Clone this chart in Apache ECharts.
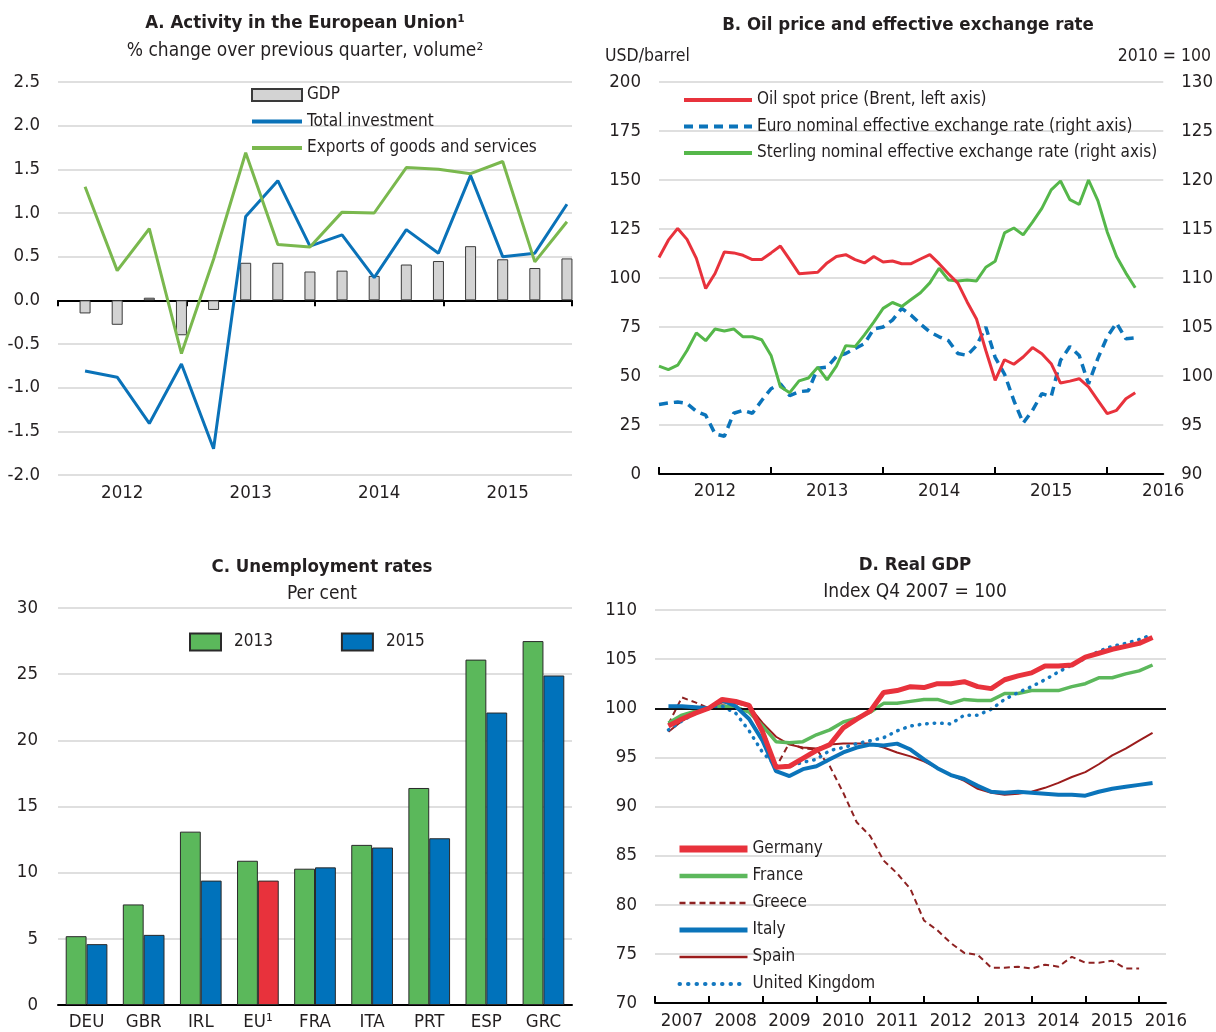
<!DOCTYPE html>
<html>
<head>
<meta charset="utf-8">
<title>EU activity, oil, unemployment and real GDP</title>
<script src="https://cdn.jsdelivr.net/npm/echarts@6/dist/echarts.min.js"></script>
<style>
    html, body { margin: 0; padding: 0; background: #fff; }
    #chart { width: 1216px; height: 1032px; }
</style>
</head>
<body>
<div id="chart"></div>
<script>
// ---- A. Activity in the European Union, % q-o-q ----
const quartersA   = ['2012Q1', '2012Q2', '2012Q3', '2012Q4', '2013Q1', '2013Q2', '2013Q3', '2013Q4',
                     '2014Q1', '2014Q2', '2014Q3', '2014Q4', '2015Q1', '2015Q2', '2015Q3', '2015Q4'];
const yearsA      = ['2012', '2013', '2014', '2015'];
const gdpA        = [-0.15, -0.28, 0.03, -0.40, -0.11, 0.43, 0.43, 0.33, 0.34, 0.28, 0.41, 0.45, 0.62, 0.47, 0.37, 0.48];
const investmentA = [-0.81, -0.88, -1.41, -0.73, -1.70, 0.96, 1.37, 0.62, 0.75, 0.26, 0.81, 0.54, 1.43, 0.50, 0.54, 1.10];
const exportsA    = [1.30, 0.34, 0.82, -0.61, 0.47, 1.69, 0.64, 0.61, 1.01, 1.00, 1.52, 1.50, 1.45, 1.59, 0.44, 0.90];

// ---- B. Oil price and effective exchange rates, monthly from Jan 2012 ----
const oilB      = [110.5, 119.3, 125.3, 119.7, 110.0, 94.6, 102.3, 113.3, 112.8, 111.6, 109.4, 109.4,
                   112.8, 116.3, 109.4, 102.2, 102.6, 102.9, 107.7, 111.0, 111.9, 109.4, 107.7, 111.0,
                   108.2, 108.7, 107.3, 107.3, 109.7, 111.9, 107.3, 102.2, 97.4, 87.8, 79.1, 63.0,
                   47.8, 58.3, 56.0, 59.7, 64.5, 61.4, 56.3, 46.4, 47.4, 48.6, 44.4, 37.6,
                   30.8, 32.5, 38.4, 41.5];
const euroB     = [97.1, 97.25, 97.35, 97.2, 96.4, 96.0, 94.1, 93.85, 96.2, 96.5, 96.2, 97.5,
                   98.7, 99.2, 98.0, 98.4, 98.5, 100.8, 100.9, 102.0, 102.3, 102.8, 103.3, 104.8,
                   105.0, 105.7, 106.9, 106.2, 105.3, 104.5, 104.0, 103.6, 102.3, 102.1, 103.1, 105.0,
                   101.9, 100.2, 97.5, 95.2, 96.5, 98.2, 97.9, 101.6, 103.0, 102.1, 99.2, 101.8,
                   104.0, 105.4, 103.8, 103.9];
const sterlingB = [101.0, 100.65, 101.1, 102.6, 104.4, 103.6, 104.8, 104.6, 104.8, 104.0, 104.0, 103.7,
                   102.1, 98.9, 98.3, 99.5, 99.8, 100.9, 99.6, 101.0, 103.1, 103.0, 104.2, 105.5,
                   106.9, 107.5, 107.1, 107.8, 108.5, 109.5, 111.0, 109.8, 109.7, 109.8, 109.7, 111.1,
                   111.7, 114.6, 115.1, 114.4, 115.7, 117.1, 119.0, 119.9, 118.0, 117.5, 120.0, 117.9,
                   114.7, 112.2, 110.5, 109.0];

// ---- C. Unemployment rates, per cent ----
const countriesC = ['DEU', 'GBR', 'IRL', 'EU¹', 'FRA', 'ITA', 'PRT', 'ESP', 'GRC'];
const unemp2013  = [5.2, 7.6, 13.1, 10.9, 10.3, 12.1, 16.4, 26.1, 27.5];
const unemp2015  = [4.6, 5.3, 9.4, 9.4, 10.4, 11.9, 12.6, 22.1, 24.9];

// ---- D. Real GDP, index Q4 2007 = 100, 2007Q1 to 2016Q1 ----
const germanyD = [98.2, 98.9, 99.5, 100.0, 100.9, 100.7, 100.3, 97.6, 94.0, 94.1, 94.9, 95.7, 96.3, 98.0, 98.9, 99.7,
                  101.6, 101.8, 102.2, 102.1, 102.5, 102.5, 102.7, 102.2, 102.0, 102.9, 103.3, 103.6, 104.3, 104.3,
                  104.4, 105.2, 105.6, 106.0, 106.3, 106.6, 107.2];
const franceD  = [98.5, 99.3, 99.7, 100.0, 100.2, 100.1, 99.6, 98.2, 96.6, 96.5, 96.6, 97.3, 97.8, 98.6, 99.0, 99.6,
                  100.5, 100.5, 100.7, 100.9, 100.9, 100.5, 100.9, 100.8, 100.8, 101.5, 101.5, 101.8, 101.8, 101.8,
                  102.2, 102.5, 103.1, 103.1, 103.5, 103.8, 104.4];
const greeceD  = [98.4, 101.1, 100.6, 100.0, 100.3, 100.2, 99.6, 98.0, 94.0, 96.5, 95.9, 95.8, 94.1, 91.4, 88.4, 87.0,
                  84.5, 83.2, 81.6, 78.4, 77.4, 76.1, 75.1, 74.9, 73.6, 73.6, 73.7, 73.5, 73.9, 73.7,
                  74.7, 74.1, 74.1, 74.3, 73.5, 73.5];
const italyD   = [100.2, 100.2, 100.1, 100.0, 100.8, 100.2, 98.9, 96.7, 93.6, 93.1, 93.8, 94.1, 94.8, 95.5, 96.0, 96.3,
                  96.2, 96.4, 95.8, 94.8, 93.9, 93.2, 92.8, 92.1, 91.5, 91.4, 91.5, 91.4, 91.3, 91.2,
                  91.2, 91.1, 91.5, 91.8, 92.0, 92.2, 92.4];
const spainD   = [97.6, 98.7, 99.5, 100.0, 100.6, 100.5, 100.2, 98.5, 97.1, 96.3, 96.0, 95.9, 96.3, 96.4, 96.4, 96.4,
                  96.0, 95.5, 95.1, 94.6, 93.9, 93.2, 92.6, 91.8, 91.4, 91.2, 91.3, 91.5, 91.9, 92.4,
                  93.0, 93.5, 94.3, 95.2, 95.9, 96.7, 97.5];
const ukD      = [97.8, 98.7, 99.5, 100.0, 100.2, 99.5, 97.7, 95.5, 94.1, 94.1, 94.5, 94.8, 95.7, 96.0, 96.4, 96.7,
                  97.0, 97.7, 98.2, 98.4, 98.5, 98.4, 99.3, 99.3, 99.9, 100.9, 101.6, 102.2, 102.9, 103.7,
                  104.4, 105.1, 105.8, 106.3, 106.6, 107.0, 107.5];

// calendar helpers for the time axes (axis slots only, not data)
function monthRange(startYear, count) {
    const out = [];
    for (let i = 0; i < count; i++) {
        out.push((startYear + Math.floor(i / 12)) + '-' + String(i % 12 + 1).padStart(2, '0'));
    }
    return out;
}
function quarterRange(startYear, startQ, count) {
    const out = [];
    for (let i = 0; i < count; i++) {
        const k = startQ - 1 + i;
        out.push((startYear + Math.floor(k / 4)) + 'Q' + (k % 4 + 1));
    }
    return out;
}
const monthsB      = monthRange(2012, 55);         // Jan 2012 .. Jul 2016, axis runs to mid-2016
const quartersD    = quarterRange(2006, 4, 39);    // 2006Q4 .. 2016Q2, points sit at quarter ends
const gdpQuartersD = quartersD.slice(1, 38);       // 2007Q1 .. 2016Q1

const FONT = '"Liberation Sans Narrow", "DejaVu Sans Condensed", "Arial Narrow", sans-serif';
const INK = '#231f20';
const GRIDC = '#d4d4d4';
const RED = '#e8323c';
const BLUE = '#0b74ba';
const GREEN = '#5bb85b';

const txt = { fontFamily: FONT, fontSize: 18.5, color: INK };
const legTxt = { fontFamily: FONT, fontSize: 17, color: INK, lineHeight: 20 };
const titleTxt = { fontFamily: FONT, fontSize: 18.5, fontWeight: 'bold', color: INK };
const subTxt = { fontFamily: FONT, fontSize: 19, color: INK };
const blackLine = { color: '#000', width: 2 };
const split = { show: true, lineStyle: { color: GRIDC, width: 1.5 } };
// line legends: keep only the stroke, hide the marker ECharts adds in the middle
const noMarker = { opacity: 0, borderWidth: 0 };

function valueAxis(gridIndex, min, max, interval, extra) {
    return Object.assign({
        gridIndex, type: 'value', min, max, interval,
        axisLine: { show: false }, axisTick: { show: false },
        splitLine: split,
        axisLabel: Object.assign({ margin: 18 }, txt)
    }, extra || {});
}

function pairs(keys, vals) {
    return vals.map((v, i) => [keys[i], v]);
}

function lineKey(name, width, type) {
    return { name, itemStyle: noMarker, lineStyle: { width, type: type || 'solid' } };
}

const chart = echarts.init(document.getElementById('chart'), null, { renderer: 'canvas' });

chart.setOption({
    animation: false,
    textStyle: { fontFamily: FONT, color: INK },
    title: [
        { text: 'A. Activity in the European Union¹', subtext: '% change over previous quarter, volume²',
          left: 300, top: 9, textAlign: 'center', itemGap: 9, textStyle: titleTxt, subtextStyle: subTxt },
        { text: 'B. Oil price and effective exchange rate',
          left: 903, top: 11, textAlign: 'center', textStyle: titleTxt },
        { text: 'C. Unemployment rates', subtext: 'Per cent',
          left: 317, top: 553, textAlign: 'center', itemGap: 8, textStyle: titleTxt, subtextStyle: subTxt },
        { text: 'D. Real GDP', subtext: 'Index Q4 2007 = 100',
          left: 910, top: 551, textAlign: 'center', itemGap: 8, textStyle: titleTxt, subtextStyle: subTxt }
    ],
    legend: [
        { data: [{ name: 'GDP', icon: 'rect' },
                 lineKey('Total investment', 4),
                 lineKey('Exports of goods and services', 4)],
          orient: 'vertical', left: 245, top: 80, itemWidth: 50, itemHeight: 12, itemGap: 6.5,
          selectedMode: false, textStyle: legTxt },
        { data: [lineKey('Oil spot price (Brent, left axis)', 4),
                 lineKey('Euro nominal effective exchange rate (right axis)', 4, [9, 6]),
                 lineKey('Sterling nominal effective exchange rate (right axis)', 4)],
          orient: 'vertical', left: 677, top: 85, itemWidth: 68, itemHeight: 12, itemGap: 6.5,
          selectedMode: false, textStyle: legTxt },
        { data: [{ name: '2013', icon: 'rect' }, { name: '2015', icon: 'rect' }],
          orient: 'horizontal', left: 184, top: 627, itemWidth: 31, itemHeight: 17, itemGap: 68,
          selectedMode: false, textStyle: Object.assign({}, legTxt, { padding: [0, 0, 0, 8] }) },
        { data: [lineKey('Germany', 7), lineKey('France', 4.5), lineKey('Greece', 2.5, [6, 4]),
                 lineKey('Italy', 5), lineKey('Spain', 2.5), lineKey('United Kingdom', 4, [0.5, 8])],
          orient: 'vertical', left: 671, top: 834, itemWidth: 68, itemHeight: 12, itemGap: 7,
          selectedMode: false, textStyle: legTxt }
    ],
    grid: [
        { left: 58, top: 82, width: 514, height: 393 },
        { left: 659, top: 82, width: 507, height: 392 },
        { left: 58, top: 608, width: 514, height: 397 },
        { left: 655, top: 610, width: 511, height: 393 },
        // A data plane: quarterly points sit late in each quarter, as in the source chart
        { left: 69, top: 82, width: 514, height: 393 }
    ],
    xAxis: [
        // A: the year axes draw the zero line and the labels
        { gridIndex: 4, type: 'category', data: quartersA, show: false, axisLine: { onZero: false } },
        { gridIndex: 0, type: 'category', data: yearsA, position: 'bottom',
          axisLine: { onZero: true, lineStyle: blackLine },
          axisTick: { show: true, length: 6, lineStyle: blackLine },
          axisLabel: { show: false } },
        { gridIndex: 0, type: 'category', data: yearsA, position: 'bottom',
          axisLine: { show: false, onZero: false }, axisTick: { show: false },
          axisLabel: Object.assign({ margin: 9 }, txt) },
        // B
        { gridIndex: 1, type: 'category', data: monthsB, boundaryGap: false,
          axisLine: { lineStyle: blackLine },
          axisTick: { inside: true, length: 7, interval: (i) => i % 12 === 0, lineStyle: blackLine },
          axisLabel: Object.assign({ margin: 8, interval: (i) => i % 12 === 6, formatter: (v) => v.slice(0, 4) }, txt) },
        // C
        { gridIndex: 2, type: 'category', data: countriesC,
          axisLine: { lineStyle: blackLine }, axisTick: { show: false },
          axisLabel: Object.assign({ margin: 8 }, txt) },
        // D
        { gridIndex: 3, type: 'category', data: quartersD, boundaryGap: false,
          axisLine: { lineStyle: blackLine },
          axisTick: { inside: true, length: 7, interval: (i) => i % 4 === 0, lineStyle: blackLine },
          axisLabel: Object.assign({ margin: 9, interval: (i) => i % 4 === 2, formatter: (v) => v.slice(0, 4) }, txt) }
    ],
    yAxis: [
        valueAxis(0, -2, 2.5, 0.5, { axisLabel: Object.assign({ margin: 18, formatter: (v) => v.toFixed(1) }, txt) }),
        valueAxis(1, 0, 200, 25),
        valueAxis(1, 90, 130, 5, { position: 'right', splitLine: { show: false } }),
        valueAxis(2, 0, 30, 5, { axisLabel: Object.assign({ margin: 20 }, txt) }),
        valueAxis(3, 70, 110, 5),
        valueAxis(4, -2, 2.5, 0.5, { show: false })
    ],
    series: [
        // A
        { name: 'GDP', type: 'bar', xAxisIndex: 0, yAxisIndex: 5, data: gdpA, barWidth: 11,
          itemStyle: { color: '#d3d3d3', borderColor: '#3a3a3a', borderWidth: 1 } },
        { name: 'Total investment', type: 'line', xAxisIndex: 0, yAxisIndex: 5, data: investmentA,
          symbol: 'none', color: '#0a72b8', lineStyle: { width: 3 } },
        { name: 'Exports of goods and services', type: 'line', xAxisIndex: 0, yAxisIndex: 5, data: exportsA,
          symbol: 'none', color: '#7ab84e', lineStyle: { width: 3 } },
        // B
        { name: 'Oil spot price (Brent, left axis)', type: 'line', xAxisIndex: 3, yAxisIndex: 1, data: oilB,
          symbol: 'none', color: RED, lineStyle: { width: 3 }, z: 4 },
        { name: 'Euro nominal effective exchange rate (right axis)', type: 'line', xAxisIndex: 3, yAxisIndex: 2,
          data: euroB, symbol: 'none', color: BLUE, lineStyle: { width: 3.5, type: [9, 6] }, z: 2 },
        { name: 'Sterling nominal effective exchange rate (right axis)', type: 'line', xAxisIndex: 3, yAxisIndex: 2,
          data: sterlingB, symbol: 'none', color: '#55b74a', lineStyle: { width: 3 }, z: 3 },
        // C
        { name: '2013', type: 'bar', xAxisIndex: 4, yAxisIndex: 3, data: unemp2013,
          barGap: '0%', barCategoryGap: '27%', color: GREEN,
          itemStyle: { borderColor: '#2a2a2a', borderWidth: 1 } },
        { name: '2015', type: 'bar', xAxisIndex: 4, yAxisIndex: 3,
          data: unemp2015.map((v, i) => countriesC[i] === 'EU¹' ? { value: v, itemStyle: { color: RED } } : v),
          barGap: '0%', barCategoryGap: '27%', color: '#0072bb',
          itemStyle: { borderColor: '#2a2a2a', borderWidth: 1 } },
        // D
        { name: 'Germany', type: 'line', xAxisIndex: 5, yAxisIndex: 4, data: pairs(gdpQuartersD, germanyD),
          symbol: 'none', color: RED, lineStyle: { width: 5 }, z: 6,
          markLine: { silent: true, symbol: 'none', label: { show: false },
                      lineStyle: { color: '#111', width: 2, type: 'solid' }, data: [{ yAxis: 100 }] } },
        { name: 'France', type: 'line', xAxisIndex: 5, yAxisIndex: 4, data: pairs(gdpQuartersD, franceD),
          symbol: 'none', color: '#5cb85c', lineStyle: { width: 3.5 }, z: 4 },
        { name: 'Greece', type: 'line', xAxisIndex: 5, yAxisIndex: 4, data: pairs(gdpQuartersD, greeceD),
          symbol: 'none', color: '#8e2222', lineStyle: { width: 2, type: [6, 4] }, z: 3 },
        { name: 'Italy', type: 'line', xAxisIndex: 5, yAxisIndex: 4, data: pairs(gdpQuartersD, italyD),
          symbol: 'none', color: BLUE, lineStyle: { width: 4 }, z: 5 },
        { name: 'Spain', type: 'line', xAxisIndex: 5, yAxisIndex: 4, data: pairs(gdpQuartersD, spainD),
          symbol: 'none', color: '#9b1c1c', lineStyle: { width: 2 }, z: 3 },
        { name: 'United Kingdom', type: 'line', xAxisIndex: 5, yAxisIndex: 4, data: pairs(gdpQuartersD, ukD),
          symbol: 'none', color: '#1378c0', lineStyle: { width: 3.5, type: [0.5, 7], cap: 'round' }, z: 4 }
    ],
    graphic: [
        { type: 'text', left: 605, top: 47, style: { text: 'USD/barrel', font: '17.5px ' + FONT, fill: INK } },
        { type: 'text', right: 5, top: 47, style: { text: '2010 = 100', font: '17.5px ' + FONT, fill: INK } }
    ]
});
</script>
</body>
</html>
